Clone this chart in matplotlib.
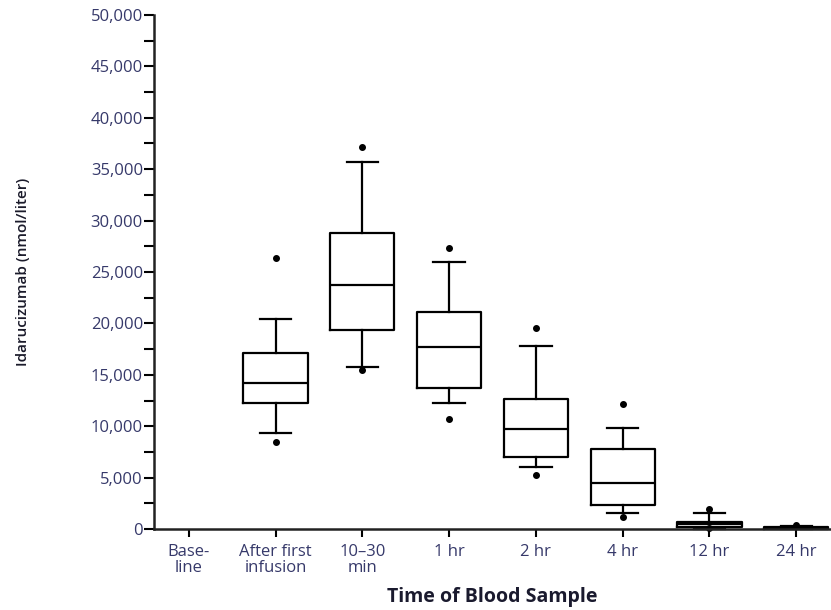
import matplotlib
matplotlib.use("Agg")
import matplotlib.pyplot as plt
from matplotlib.ticker import MultipleLocator, FuncFormatter

categories = ["Base-\nline", "After first\ninfusion", "10\u201330\nmin", "1 hr", "2 hr", "4 hr", "12 hr", "24 hr"]
# Box statistics for each sampled time (Baseline has no box)
box_positions = [1, 2, 3, 4, 5, 6, 7]
whisker_low = [9340, 15760, 12230, 6000, 1560, 0, 0]
q1 = [12260, 19330, 13720, 7030, 2300, 230, 20]
median = [14200, 23770, 17670, 9730, 4500, 450, 60]
q3 = [17120, 28760, 21080, 12650, 7780, 680, 150]
whisker_high = [20430, 35730, 25970, 17830, 9820, 1560, 300]
outliers_low = [8460, 15470, 10670, 5250, 1170, 70, None]
outliers_high = [26360, 37130, 27300, 19520, 12130, 1950, 420]

stats = []
for i in range(len(box_positions)):
    fl = [v for v in (outliers_low[i], outliers_high[i]) if v is not None]
    stats.append(dict(whislo=whisker_low[i], q1=q1[i], med=median[i], q3=q3[i],
                      whishi=whisker_high[i], fliers=fl))

tick_color = "#36396a"
plt.rcParams["font.family"] = ["Open Sans", "DejaVu Sans"]

fig = plt.figure(figsize=(8.31, 6.10), dpi=100)
ax = fig.add_axes([154/831, 1 - 529/610, 1 - 154/831, (529 - 15)/610])

lw = 1.6
ax.bxp(stats, positions=box_positions, widths=0.74,
       boxprops=dict(color="black", linewidth=lw),
       medianprops=dict(color="black", linewidth=lw),
       whiskerprops=dict(color="black", linewidth=lw),
       capprops=dict(color="black", linewidth=lw),
       capwidths=0.36,
       flierprops=dict(marker="o", markerfacecolor="black", markeredgecolor="black", markersize=4),
       manage_ticks=False)

for artist in ax.lines + ax.patches:
    artist.set_clip_on(False)

ax.set_xlim(-0.4, 7.4)
ax.set_ylim(0, 50000)
ax.set_xticks(range(len(categories)))
ax.set_xticklabels(categories, color=tick_color, fontsize=12, linespacing=0.95)
ax.yaxis.set_major_locator(MultipleLocator(5000))
ax.yaxis.set_minor_locator(MultipleLocator(2500))
ax.yaxis.set_major_formatter(FuncFormatter(lambda v, p: f"{int(v):,}"))
for lab in ax.get_yticklabels():
    lab.set_color(tick_color)
ax.tick_params(axis="y", which="major", length=7, width=1.5, labelsize=12, pad=1)
ax.tick_params(axis="y", which="minor", length=7, width=1.5)
ax.tick_params(axis="x", which="major", length=6, width=1.5, labelsize=12, pad=5)

for s in ("top", "right"):
    ax.spines[s].set_visible(False)
for s in ("left", "bottom"):
    ax.spines[s].set_linewidth(1.8)
    ax.spines[s].set_color("#222222")

ax.set_ylabel("Idarucizumab (nmol/liter)", fontsize=11, color="#1a1a2a",
              fontweight="semibold", fontstretch="condensed")
ax.yaxis.set_label_coords((30 - 154)/677, 0.5)
ax.set_xlabel("Time of Blood Sample", fontsize=14, fontweight="bold", color="#1a1a2e")
ax.xaxis.set_label_coords(0.5, -(587 - 529)/514)

fig.savefig("out.png", dpi=100)
